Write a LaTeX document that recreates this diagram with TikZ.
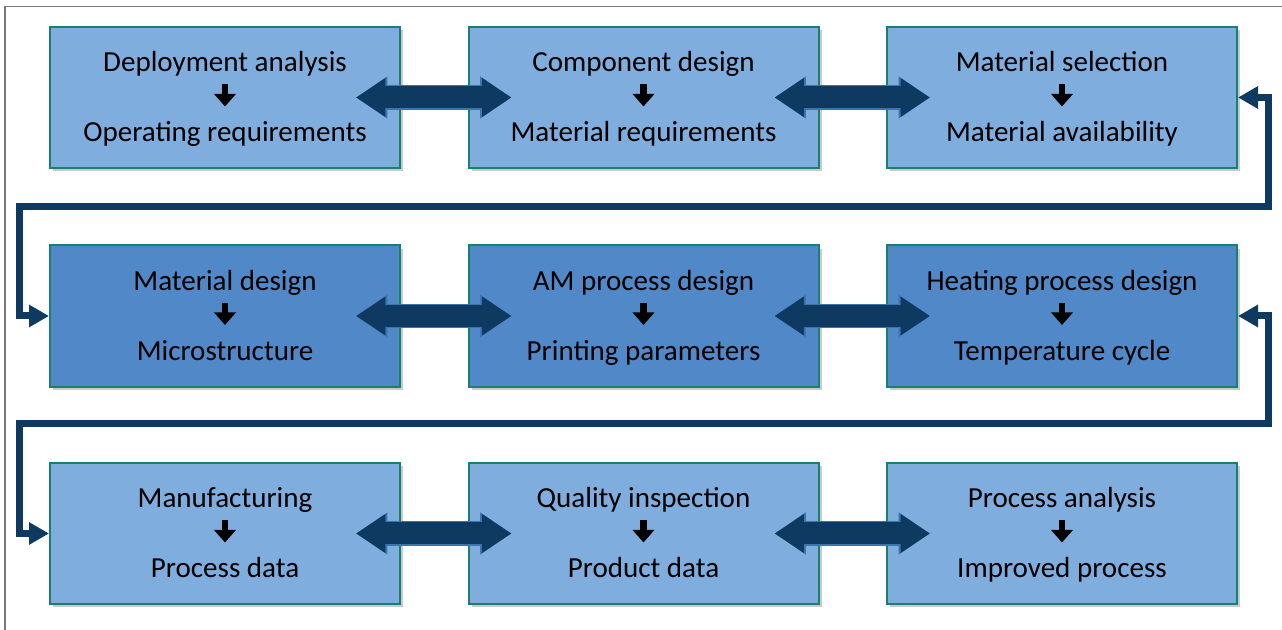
\documentclass[tikz,border=0pt]{standalone}
\usepackage{fontspec}
\setmainfont{Carlito}
\usetikzlibrary{arrows.meta,shadows}

\definecolor{rowlight}{RGB}{127,173,221}
\definecolor{rowdark}{RGB}{80,136,200}
\definecolor{boxedge}{RGB}{24,128,112}
\definecolor{navy}{RGB}{14,58,97}
\definecolor{navyedge}{RGB}{60,116,172}
\definecolor{framegray}{RGB}{120,120,120}

\newcommand{\stagetext}[2]{\rule{0pt}{21.5pt}#1\\[27.5pt]#2\strut}

\tikzset{
	stage/.style={draw=boxedge, line width=1.5pt, minimum width=262.5pt, minimum height=106pt, inner sep=0pt, align=center, font=\fontsize{21.8}{25}\selectfont, drop shadow={shadow xshift=2.5pt, shadow yshift=-2.5pt, opacity=0.35, fill=black!60}},
	stepdown/.style={draw=black, line width=4.8pt, -{Triangle[width=16pt,length=9.5pt]}},
	twoway/.style={draw=navy, line width=16.5pt, {Triangle[width=27.5pt,length=22pt]}-{Triangle[width=27.5pt,length=22pt]}, preaction={draw=navyedge, line width=18.5pt, {Triangle[width=30pt,length=23.5pt]}-{Triangle[width=30pt,length=23.5pt]}}},
	loopback/.style={draw=navy, line width=5.25pt, {Triangle[width=16pt,length=15pt]}-{Triangle[width=16pt,length=15pt]}}
}

\begin{document}
\begin{tikzpicture}[x=0.75pt,y=0.75pt,yscale=-1,xscale=1]
	\useasboundingbox (0,0) rectangle (1282,630);
	% frame
	\draw [framegray, line width=0.9pt] (5,630) -- (5,6.5) -- (1282,6.5) ;
	% first row
	\node [stage, fill=rowlight] (b1) at (225,97.5) {\stagetext{Deployment analysis}{Operating requirements}};
	\node [stage, fill=rowlight] (b2) at (643.5,97.5) {\stagetext{Component design}{Material requirements}};
	\node [stage, fill=rowlight] (b3) at (1062,97.5) {\stagetext{Material selection}{Material availability}};
	% second row
	\node [stage, fill=rowdark] (b4) at (225,316) {\stagetext{Material design}{Microstructure}};
	\node [stage, fill=rowdark] (b5) at (643.5,316) {\stagetext{AM process design}{Printing parameters}};
	\node [stage, fill=rowdark] (b6) at (1062,316) {\stagetext{Heating process design}{Temperature cycle}};
	% third row
	\node [stage, fill=rowlight] (b7) at (225,533.5) {\stagetext{Manufacturing}{Process data}};
	\node [stage, fill=rowlight] (b8) at (643.5,533.5) {\stagetext{Quality inspection}{Product data}};
	\node [stage, fill=rowlight] (b9) at (1062,533.5) {\stagetext{Process analysis}{Improved process}};
	% small arrows inside the boxes
	\draw [stepdown] (b1.center) ++(0,-13) -- ++(0,22) ;
	\draw [stepdown] (b2.center) ++(0,-13) -- ++(0,22) ;
	\draw [stepdown] (b3.center) ++(0,-13) -- ++(0,22) ;
	\draw [stepdown] (b4.center) ++(0,-13) -- ++(0,22) ;
	\draw [stepdown] (b5.center) ++(0,-13) -- ++(0,22) ;
	\draw [stepdown] (b6.center) ++(0,-13) -- ++(0,22) ;
	\draw [stepdown] (b7.center) ++(0,-13) -- ++(0,22) ;
	\draw [stepdown] (b8.center) ++(0,-13) -- ++(0,22) ;
	\draw [stepdown] (b9.center) ++(0,-13) -- ++(0,22) ;
	% two-way arrows
	\draw [twoway] ([xshift=-33.75pt]b1.east) -- ([xshift=33pt]b2.west) ;
	\draw [twoway] ([xshift=-33.75pt]b2.east) -- ([xshift=33pt]b3.west) ;
	\draw [twoway] ([xshift=-33.75pt]b4.east) -- ([xshift=33pt]b5.west) ;
	\draw [twoway] ([xshift=-33.75pt]b5.east) -- ([xshift=33pt]b6.west) ;
	\draw [twoway] ([xshift=-33.75pt]b7.east) -- ([xshift=33pt]b8.west) ;
	\draw [twoway] ([xshift=-33.75pt]b8.east) -- ([xshift=33pt]b9.west) ;
	% loops between rows
	\coordinate (r1) at (1268,207) ;
	\coordinate (l1) at (19,207) ;
	\coordinate (r2) at (1268,424) ;
	\coordinate (l2) at (19,424) ;
	\draw [loopback] (b3.east) -| (r1) -- (l1) |- (b4.west) ;
	\draw [loopback] (b6.east) -| (r2) -- (l2) |- (b7.west) ;
\end{tikzpicture}
\end{document}
